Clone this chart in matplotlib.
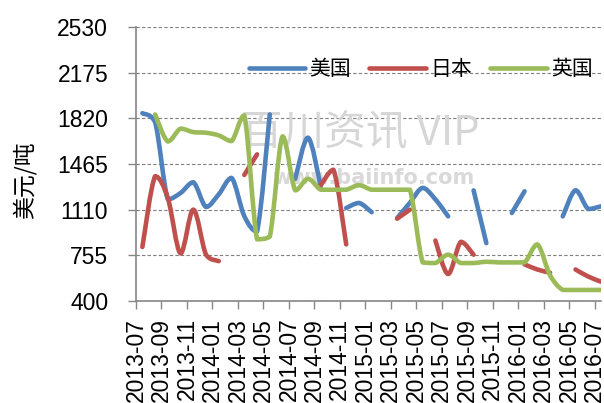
import numpy as np
import pandas as pd
import matplotlib
matplotlib.use('Agg')
import matplotlib.pyplot as plt
import matplotlib.transforms as mtransforms
from matplotlib.path import Path
from matplotlib.patches import PathPatch
from matplotlib.lines import Line2D

plt.rcParams['font.family'] = ['Liberation Sans', 'Noto Sans CJK SC', 'DejaVu Sans']

nan = np.nan

# monthly, 2013-07 .. 2016-07
months = list(pd.period_range('2013-07', '2016-07', freq='M').strftime('%Y-%m'))
tick_labels = months[::2]
y_ticks = [400, 755, 1110, 1465, 1820, 2175, 2530]

usa = [1860, 1790, 1190, 1240, 1323, 1131, 1230, 1357, 1060, 940, 1850, nan,
       1350, 1670, 1290, nan, 1123, 1162, 1090, nan, 1045, 1164, 1279, 1190,
       1058, nan, 1260, 850, nan, 1084, 1253, nan, nan, 1058, 1261, 1115, 1136]
japan = [820, 1370, 1200, 770, 1110, 760, 710, nan, 1380, 1540, nan, nan,
         nan, nan, 1300, 1420, 840, nan, nan, nan, 1040, 1110, nan, 870,
         610, 860, 760, nan, nan, nan, 685, 645, 620, nan, 645, 590, 550]
uk = [nan, 1850, 1640, 1740, 1713, 1708, 1687, 1643, 1843, 880, 900, 1680,
      1260, 1350, 1265, 1265, 1265, 1300, 1265, 1265, 1265, 1265, 700, 695,
      760, 695, 695, 705, 700, 700, 700, 840, 600, 486, 486, 486, 486]

series = [('美国', usa, '#4F81BD'), ('日本', japan, '#C0504D'), ('英国', uk, '#9BBB59')]


def smooth_path(xs, ys):
    # smoothed line: cubic bezier, catmull-rom style handles, clamped so it doesn't overshoot
    n = len(xs)
    verts = [(xs[0], ys[0])]
    codes = [Path.MOVETO]
    for k in range(n - 1):
        a = k - 1 if k > 0 else k
        b = k + 2 if k + 2 < n else k + 1
        lo, hi = min(ys[k], ys[k + 1]), max(ys[k], ys[k + 1])
        c1 = (xs[k] + (xs[k + 1] - xs[a]) / 6, np.clip(ys[k] + (ys[k + 1] - ys[a]) / 6, lo, hi))
        c2 = (xs[k + 1] - (xs[b] - xs[k]) / 6, np.clip(ys[k + 1] - (ys[b] - ys[k]) / 6, lo, hi))
        verts += [c1, c2, (xs[k + 1], ys[k + 1])]
        codes += [Path.CURVE4] * 3
    return Path(verts, codes)


def draw_series(ax, values, color):
    x = np.arange(len(values)) + 0.5   # points sit mid-month
    y = np.array(values, dtype=float)
    ok = ~np.isnan(y)
    # split into runs of valid values (gaps stay gaps)
    start = None
    for i in range(len(y) + 1):
        if i < len(y) and ok[i]:
            if start is None:
                start = i
        elif start is not None:
            xs, ys = x[start:i], y[start:i]
            if len(xs) > 1:
                ax.add_patch(PathPatch(smooth_path(xs, ys), fill=False, edgecolor=color,
                                       lw=3.3, capstyle='round', joinstyle='round', zorder=3))
            start = None


fig = plt.figure(figsize=(6.04, 4.03), dpi=100)
ax = fig.add_axes([136 / 604, 102 / 403, 465 / 604, 274 / 403])

for name, vals, color in series:
    draw_series(ax, vals, color)

ax.set_xlim(0, len(months) - 0.5)
ax.set_ylim(400, 2530)
ax.set_yticks(y_ticks)
ax.set_yticklabels([str(v) for v in y_ticks])
ax.set_xticks(np.arange(0, len(months), 2))
ax.set_xticklabels(tick_labels, rotation=90, va='top', ha='center')
shift = mtransforms.ScaledTranslation(4 / 100, 0, fig.dpi_scale_trans)
for lbl in ax.get_xticklabels():
    lbl.set_transform(lbl.get_transform() + shift)

ax.grid(axis='y', color='#7f7f7f', linestyle=(0, (3, 2)), lw=0.8, zorder=0)
ax.set_axisbelow(True)
for s in ['top', 'right']:
    ax.spines[s].set_visible(False)
for s in ['left', 'bottom']:
    ax.spines[s].set_color('#868686')
    ax.spines[s].set_linewidth(1.2)
ax.tick_params(axis='y', length=6, width=1.0, color='#868686', pad=14, labelsize=16.5)
ax.tick_params(axis='x', length=6, width=1.0, color='#868686', pad=6, labelsize=16.5)

ax.set_ylabel('美元/吨', fontsize=16.5, family=['Noto Sans CJK SC'])
ax.yaxis.set_label_coords(-0.213, 0.44)

# watermark
ax.text(0.482, 0.61, '百川资讯 VIP', transform=ax.transAxes, fontsize=30,
        color='#d6d6d6', ha='center', va='center', zorder=1,
        family=['Noto Sans CJK SC', 'DejaVu Sans'])
ax.text(0.51, 0.45, 'www.baiinfo.com', transform=ax.transAxes, fontsize=15,
        color='#d9d9d9', ha='center', va='center', zorder=1, weight='bold',
        family=['DejaVu Sans'])

handles = [Line2D([], [], color=c, lw=3.3, solid_capstyle='round') for _, _, c in series]
ax.legend(handles, [n for n, _, _ in series], loc='center', bbox_to_anchor=(0.612, 0.845),
          ncol=3, frameon=False, fontsize=15, handlelength=2.7, handletextpad=0.2,
          columnspacing=0.9, borderaxespad=0)

fig.savefig('out.png', dpi=100)
